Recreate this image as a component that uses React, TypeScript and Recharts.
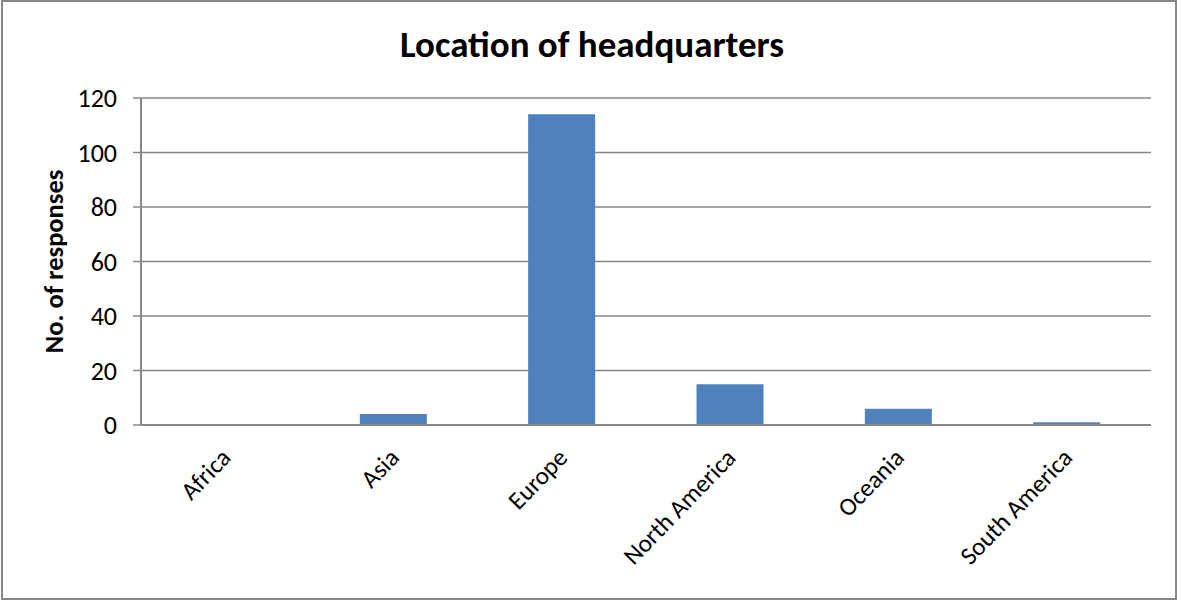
import React from 'react';
import { BarChart, Bar, XAxis, YAxis, CartesianGrid } from 'recharts';

const categories = ['Africa', 'Asia', 'Europe', 'North America', 'Oceania', 'South America'];
const responses = [0, 4, 114, 15, 6, 1];
const yTicks = [0, 20, 40, 60, 80, 100, 120];

const data = categories.map((c, i) => ({ region: c, value: responses[i] }));

const FONT = 'Carlito, Lato, "Noto Sans", sans-serif';

const XTick = (props: any) => {
  const { x, y, payload } = props;
  const tx = x + 7;
  const ty = y + 26;
  return (
    <text
      x={tx}
      y={ty}
      transform={`rotate(-46, ${tx}, ${ty})`}
      textAnchor="end"
      fontFamily={FONT}
      fontSize={25}
      fill="#000"
    >
      {payload.value}
    </text>
  );
};

export default function App() {
  return (
    <div style={{ position: 'absolute', left: 0, top: 0, width: 1181, height: 603, background: '#fff' }}>
      <div
        style={{
          position: 'absolute',
          left: 1,
          top: 0,
          width: 1176,
          height: 600,
          border: '2px solid #878787',
          boxSizing: 'border-box',
        }}
      />
      <div
        style={{
          position: 'absolute',
          left: 0,
          top: 22,
          width: 1181,
          textAlign: 'center',
          fontFamily: FONT,
          fontWeight: 'bold',
          fontSize: 37,
          lineHeight: '45px',
          color: '#000',
          paddingLeft: 3,
          boxSizing: 'border-box',
        }}
      >
        Location of headquarters
      </div>
      <div style={{ position: 'absolute', left: 0, top: 0 }}>
        <BarChart
          width={1181}
          height={603}
          data={data}
          margin={{ top: 98, right: 30, bottom: 28, left: 21 }}
          barCategoryGap="30%"
        >
          <CartesianGrid vertical={false} stroke="#878787" strokeWidth={1.5} />
          <XAxis
            dataKey="region"
            tickLine={false}
            axisLine={{ stroke: '#878787', strokeWidth: 2 }}
            tick={<XTick />}
            interval={0}
            height={150}
          />
          <YAxis
            domain={[0, 120]}
            ticks={yTicks}
            interval={0}
            width={120}
            tickLine={{ stroke: '#878787', strokeWidth: 1.5 }}
            tickSize={8}
            tickMargin={16}
            axisLine={{ stroke: '#878787', strokeWidth: 2 }}
            tick={{ fontFamily: FONT, fontSize: 26, fill: '#000' }}
            label={{
              value: 'No. of responses',
              angle: -90,
              position: 'insideLeft',
              offset: 33,
              style: { textAnchor: 'middle', fontFamily: FONT, fontWeight: 'bold', fontSize: 26.5, fill: '#000' },
            }}
          />
          <Bar dataKey="value" fill="#4F81BD" isAnimationActive={false} />
        </BarChart>
      </div>
    </div>
  );
}
